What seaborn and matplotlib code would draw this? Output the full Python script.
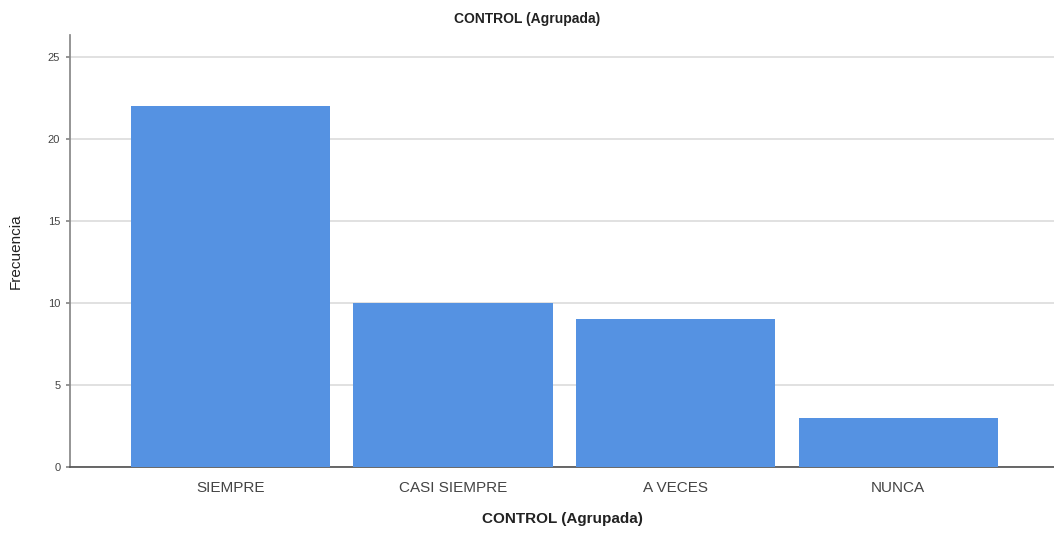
import matplotlib
matplotlib.use("Agg")
import matplotlib.pyplot as plt
import seaborn as sns
import pandas as pd

categories = ["SIEMPRE", "CASI SIEMPRE", "A VECES", "NUNCA"]
frecuencia = [22, 10, 9, 3]
yticks = [0, 5, 10, 15, 20, 25]

df = pd.DataFrame({"cat": categories, "freq": frecuencia})

sns.set_theme(style="white")
plt.rcParams['font.family'] = ['Liberation Sans', 'DejaVu Sans']

fig = plt.figure(figsize=(10.54, 5.33), dpi=100)
ax = fig.add_axes([0.0664, 0.1238, 0.9336, 0.8102])
sns.barplot(data=df, x="cat", y="freq", color="#5592E2", saturation=1,
            width=0.895, ax=ax, zorder=3, linewidth=0, edgecolor="none")
ax.set_xlim(-0.72, 3.70)
ax.set_ylim(0, 26.3)
ax.set_yticks(yticks)
ax.yaxis.grid(True, color="#dcdcdc", linewidth=1.2, zorder=0)
ax.set_axisbelow(True)
for s in ["top", "right"]:
    ax.spines[s].set_visible(False)
ax.spines["left"].set_color("#888888")
ax.spines["bottom"].set_color("#555555")
ax.tick_params(axis="y", labelsize=8, colors="#444444", length=3, left=True, color="#888888", pad=4)
ax.tick_params(axis="x", labelsize=11, colors="#444444", length=0, pad=10)
ax.set_xlabel("CONTROL (Agrupada)", fontsize=11, fontweight="bold", labelpad=12, color="#222222")
ax.set_ylabel("Frecuencia", fontsize=11, labelpad=18, color="#222222")
fig.text(0.5, 0.965, "CONTROL (Agrupada)", ha="center", va="center", fontsize=10,
         fontweight="bold", color="#222222")
fig.savefig("out.png", dpi=100)
